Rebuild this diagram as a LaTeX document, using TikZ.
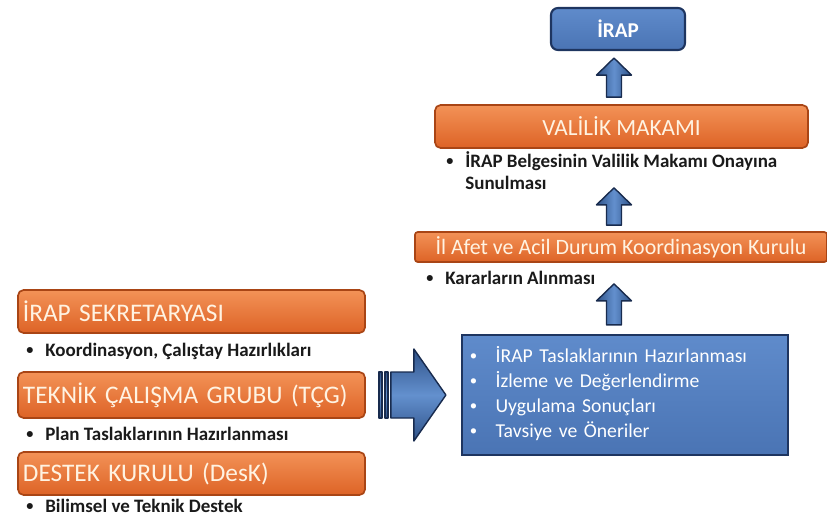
\documentclass[tikz,border=0pt]{standalone}
\usepackage{fontspec}
\setmainfont{Carlito}
\usetikzlibrary{calc}

\definecolor{orangetop}{HTML}{F39257}
\definecolor{orangebot}{HTML}{DD6326}
\definecolor{orangeline}{HTML}{A94515}
\definecolor{boxtext}{HTML}{FFF3E2}
\definecolor{notetext}{HTML}{1A1A1A}
\definecolor{bluetop}{HTML}{5F8BCB}
\definecolor{bluebot}{HTML}{4A74B4}
\definecolor{blueline}{HTML}{1E3560}
\definecolor{arrowmid}{HTML}{6390CE}
\definecolor{arrowedge}{HTML}{2F5288}
\definecolor{arrowline}{HTML}{182B4E}

\newcommand\dotmark{\raisebox{0.09em}{\scalebox{0.75}{\textbullet}}}
\newcommand\bulletline[1]{\begin{tabular}{@{}l@{\hspace{8.5pt}}l@{}}\dotmark & #1\end{tabular}}

\newcommand\blockup[2]{% #1 lower end, #2 upper end (same x)
  \draw[uparrowblk] ($(#1)+(-7.5,0)$) -- ($(#2)+(-7.5,17)$) -- ($(#2)+(-17.5,17)$)
    -- (#2) -- ($(#2)+(17.5,17)$) -- ($(#2)+(7.5,17)$) -- ($(#1)+(7.5,0)$) -- cycle;}

\tikzset{
  orangebox/.style={draw=orangeline, line width=1.2pt, rounded corners=4pt,
    top color=orangetop, bottom color=orangebot, text=boxtext, inner sep=0pt},
  leftbox/.style={orangebox, minimum height=1.075cm, text width=8.425cm,
    inner xsep=0.125cm, align=left, font=\fontsize{18}{20}\selectfont},
  bluebox/.style={draw=blueline, line width=1.5pt, top color=bluetop,
    bottom color=bluebot, text=white, inner sep=0pt},
  note/.style={anchor=west, inner sep=0pt, text=notetext,
    font=\bfseries\fontsize{13.5}{15.6}\selectfont},
  uparrowblk/.style={draw=arrowline, line width=1pt, line join=round,
    left color=arrowedge, right color=arrowedge, middle color=arrowmid},
  rightarrowblk/.style={draw=arrowline, line width=1pt, line join=round,
    top color=arrowedge, bottom color=arrowedge, middle color=arrowmid},
}

\begin{document}
\begin{tikzpicture}[x=0.025cm, y=-0.025cm]
  \useasboundingbox (0,0) rectangle (827,522);

  % upper column
  \node[bluebox, rounded corners=5pt, minimum width=3.35cm, minimum height=1.05cm,
    font=\bfseries\fontsize{15}{17}\selectfont] (irap) at (618,29) {İRAP};
  \node[orangebox, minimum width=9.325cm, minimum height=1.075cm,
    font=\fontsize{16.5}{18}\selectfont] (valilik) at (621.5,126.5) {VALİLİK MAKAMI};
  \node[note] (valiliknote) at (446,174)
    {\begin{tabular}{@{}l@{\hspace{8.5pt}}l@{}}\dotmark & İRAP Belgesinin Valilik Makamı Onayına\\ & Sunulması\end{tabular}};
  \node[orangebox, rounded corners=2pt, minimum width=10.3cm, minimum height=0.75cm,
    font=\fontsize{15.6}{17}\selectfont] (afet) at (621,247)
    {İl Afet ve Acil Durum Koordinasyon Kurulu};
  \node[note] (afetnote) at (426,280) {\bulletline{Kararların Alınması}};

  % task box
  \node[bluebox, text width=7.75cm, inner xsep=0.2cm, minimum height=3cm,
    font=\fontsize{14}{17.8}\selectfont] (tasks) at (625,395)
    {\begin{tabular}{@{}l@{\hspace{13pt}}l@{}}
      \dotmark & İRAP Taslaklarının Hazırlanması\\
      \dotmark & İzleme ve Değerlendirme\\
      \dotmark & Uygulama Sonuçları\\
      \dotmark & Tavsiye ve Öneriler
    \end{tabular}};

  % left column
  \node[leftbox] (sekr) at (191.5,311.5) {İRAP SEKRETARYASI};
  \node[note] (sekrnote) at (26,352) {\bulletline{Koordinasyon, Çalıştay Hazırlıkları}};
  \node[leftbox, minimum height=1.15cm] (teknik) at (191.5,395) {TEKNİK ÇALIŞMA GRUBU (TÇG)};
  \node[note] (tekniknote) at (26,436) {\bulletline{Plan Taslaklarının Hazırlanması}};
  \node[leftbox] (destek) at (191.5,473.5) {DESTEK KURULU (DesK)};
  \node[note] (desteknote) at (26,508) {\bulletline{Bilimsel ve Teknik Destek}};

  % up arrows
  \coordinate (t1) at ($(irap.south)+(-4,7)$);
  \coordinate (b1) at ($(t1|-valilik.north)+(0,-7)$);
  \coordinate (t2) at ($(t1|-valilik.south)+(0,39)$);
  \coordinate (b2) at ($(t1|-afet.north)+(0,-6)$);
  \coordinate (t3) at ($(t1|-afet.south)+(0,21)$);
  \coordinate (b3) at ($(t1|-tasks.north)+(0,-9)$);
  \foreach \b/\t in {b1/t1, b2/t2, b3/t3}
    \blockup{\b}{\t};

  % striped arrow into the task box
  \coordinate (tip) at ($(tasks.west)+(-15,0)$);
  \draw[rightarrowblk] ($(tip)+(-55,-23)$) -- ($(tip)+(-32,-23)$) -- ($(tip)+(-32,-46)$)
    -- (tip) -- ($(tip)+(-32,46)$) -- ($(tip)+(-32,23)$) -- ($(tip)+(-55,23)$) -- cycle;
  \draw[rightarrowblk] ($(tip)+(-67,-23)$) rectangle ($(tip)+(-64,23)$);
  \draw[rightarrowblk] ($(tip)+(-61,-23)$) rectangle ($(tip)+(-58,23)$);
\end{tikzpicture}
\end{document}
